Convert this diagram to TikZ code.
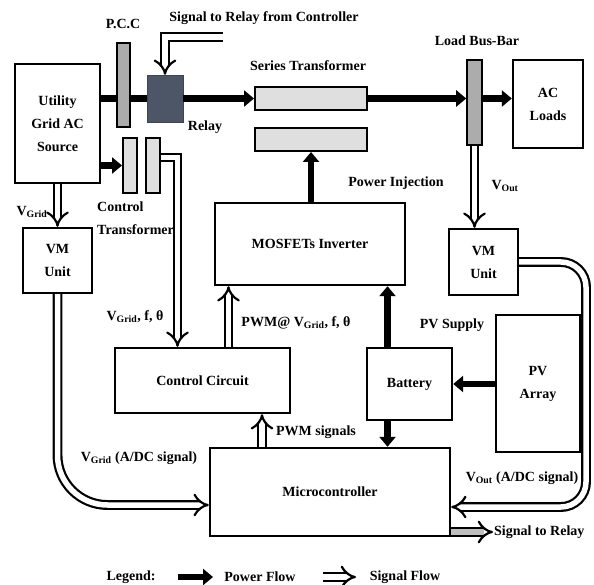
\documentclass[tikz,border=0pt]{standalone}
\usepackage{fontspec}
\setmainfont{Liberation Serif}
\usetikzlibrary{arrows.meta}

\newcommand{\Vsb}[1]{V\textsubscript{#1}}
\definecolor{relaygray}{RGB}{76,86,102}

\tikzset{
  txt/.style={font=\fontsize{14}{23}\selectfont\bfseries, inner sep=1pt},
  blk/.style={txt, draw, line width=2.4pt, fill=white, align=center, inner sep=0pt},
  bar/.style={draw, line width=1.6pt, fill=gray!65, inner sep=0pt},
  coil/.style={draw, line width=2pt, fill=gray!25, inner sep=0pt},
  power/.style={line width=6.5pt, -{Triangle[length=10pt,width=16pt]}},
  wire/.style={line width=6.5pt},
  signal/.style={double, double distance=5.5pt, line width=2.2pt, -{Implies[scale=1.6]}},
}

\begin{document}
\begin{tikzpicture}[x=1pt,y=-1pt]
  \useasboundingbox (0,0) rectangle (594,585);

  % grid side
  \node[blk, minimum width=85pt, minimum height=119pt] (grid) at (57.5,123.5) {Utility\\Grid AC\\Source};
  \node[bar, minimum width=13pt, minimum height=84pt] (pcc) at (123.5,85) {};
  \node[draw=relaygray!80!black, fill=relaygray, minimum width=36pt, minimum height=47pt, inner sep=0pt] (relay) at (165,98.5) {};
  \node[coil, minimum width=14pt, minimum height=55pt] (ct1) at (130,165.5) {};
  \node[coil, minimum width=14pt, minimum height=55pt] (ct2) at (153,165.5) {};

  % series transformer and load side
  \node[coil, minimum width=112pt, minimum height=23pt] (stp) at (311,98.5) {};
  \node[coil, minimum width=112pt, minimum height=23pt] (sts) at (311,139.5) {};
  \node[bar, minimum width=15pt, minimum height=85pt] (bus) at (474.5,102.5) {};
  \node[blk, minimum width=70pt, minimum height=88pt] (loads) at (548,104) {AC\\Loads};

  % lower blocks
  \node[blk, minimum width=69pt, minimum height=65pt] (vm1) at (57.5,260.5) {VM\\Unit};
  \node[blk, minimum width=190pt, minimum height=82pt] (inv) at (310,244) {MOSFETs Inverter};
  \node[blk, minimum width=69pt, minimum height=66pt] (vm2) at (483.5,262) {VM\\Unit};
  \node[blk, minimum width=84pt, minimum height=137pt] (pv) at (538,383.5) {PV\\Array};
  \node[blk, minimum width=85pt, minimum height=72pt] (bat) at (409.5,384) {Battery};
  \node[blk, minimum width=175pt, minimum height=65pt] (ctrl) at (202.5,380.5) {Control Circuit};
  \node[blk, minimum width=240pt, minimum height=88pt] (mcu) at (330,492) {Microcontroller};

  % labels
  \node[txt] (pcclbl) at (123,24) {P.C.C};
  \node[txt] (siglbl) at (264,18) {Signal to Relay from Controller};
  \node[txt] (stlbl) at (308,66) {Series Transformer};
  \node[txt] (buslbl) at (477,41) {Load Bus-Bar};
  \node[txt] (relaylbl) at (205,127) {Relay};
  \node[txt] (injlbl) at (396,183) {Power Injection};
  \node[txt] (voutlbl) at (505,186) {\Vsb{Out}};
  \node[txt] (vgridlbl) at (32,212) {\Vsb{Grid}};
  \node[txt, align=left, anchor=north west] (ctlbl) at (96,201) {Control\\Transformer};
  \node[txt] (ctrlin) at (135,317) {\Vsb{Grid}, f, θ};
  \node[txt] (pwmlbl) at (296,323) {PWM@ \Vsb{Grid}, f, θ};
  \node[txt] (pvlbl) at (452,325) {PV Supply};
  \node[txt] (pwmsig) at (316,432) {PWM signals};
  \node[txt] (adcg) at (139,458) {\Vsb{Grid} (A/DC signal)};
  \node[txt] (adco) at (522,478) {\Vsb{Out} (A/DC signal)};
  \node[txt, anchor=west] (sigout) at (493,532) {Signal to Relay};

  % power flow
  \draw[wire] (grid.east |- relay) -- (pcc.west |- relay);
  \draw[wire] (pcc.east |- relay) -- (relay.west);
  \draw[power] (relay.east) -- (stp.west);
  \draw[power] (stp.east) -- (bus.west |- stp.east);
  \draw[power] (bus.east |- stp.east) -- (loads.west |- stp.east);
  \draw[power] (grid.east |- ct1) -- (ct1.west);
  \draw[power] (sts.south |- inv.north) -- (sts.south);
  \draw[power] ([xshift=-22pt]bat.north) -- ([xshift=-22pt]bat.north |- inv.south);
  \draw[power] ([xshift=-22pt]bat.south) -- ([xshift=-22pt]bat.south |- mcu.north);
  \draw[power] (pv.west |- bat) -- (bat.east);

  % signal flow
  \coordinate (sigin) at (223,37);
  \draw[signal] (sigin) -| (relay.north);
  \draw[signal] ([yshift=8pt]ct2.east) -| ([xshift=-25pt]ctrl.north);
  \draw[signal] (grid.south) -- (vm1.north);
  \draw[signal, rounded corners=50pt] (vm1.south) |- ([yshift=-13pt]mcu.west);
  \draw[signal] (bus.south) -- (bus.south |- vm2.north);
  \coordinate (rtcorner) at (586,507);
  \draw[signal, rounded corners=25pt] (vm2.east) -| (rtcorner) -- ([yshift=-15pt]mcu.east);
  \draw[signal] ([xshift=26pt]ctrl.north) -- ([xshift=26pt]ctrl.north |- inv.south);
  \draw[signal] ([xshift=-68pt]mcu.north) -- ([xshift=-68pt]mcu.north |- ctrl.south);
  \draw[signal, double=gray!50] ([yshift=-40pt]mcu.east) -- (sigout.west);

  % legend
  \node[txt] (leg) at (131,577) {Legend:};
  \coordinate (pwa) at (178,577);
  \coordinate (pwb) at (213,577);
  \node[txt] (pwlbl) at (260,577) {Power Flow};
  \coordinate (sga) at (323,577);
  \coordinate (sgb) at (356,577);
  \node[txt] (sglbl) at (405,577) {Signal Flow};
  \draw[power] (pwa) -- (pwb);
  \draw[signal] (sga) -- (sgb);
\end{tikzpicture}
\end{document}
